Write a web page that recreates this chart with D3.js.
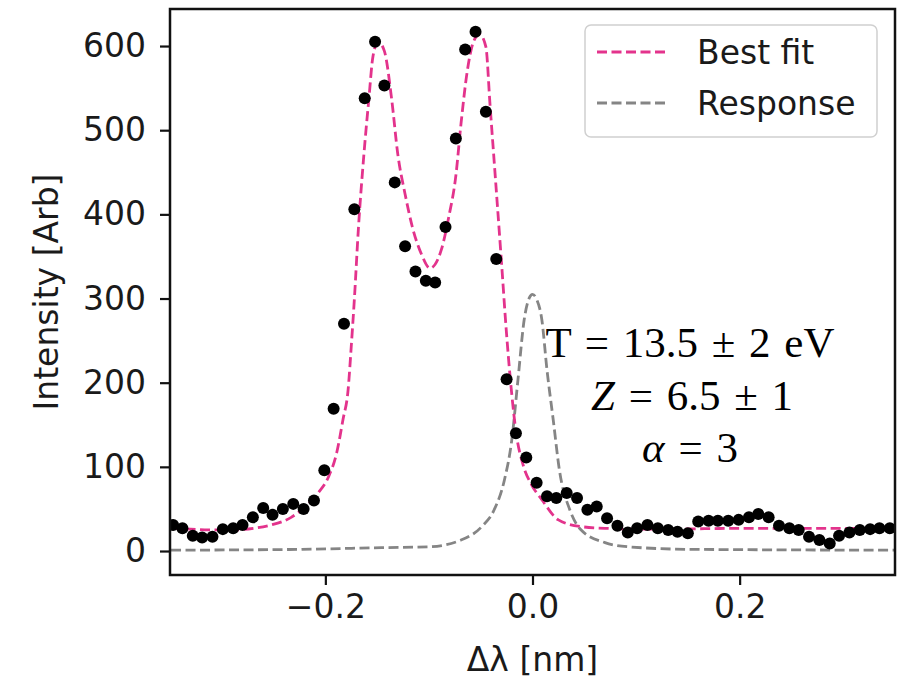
<!DOCTYPE html>
<html>
<head>
<meta charset="utf-8">
<script src="https://cdn.jsdelivr.net/npm/d3@7"></script>
<style>
  body { margin: 0; background: #fff; }
  svg { display: block; }
</style>
</head>
<body>
<script>
// measured spectrum (dots)
const pointX = [-0.347, -0.338, -0.328, -0.319, -0.309, -0.299, -0.289, -0.280, -0.270, -0.260,
  -0.251, -0.241, -0.231, -0.221, -0.211, -0.201, -0.192, -0.182, -0.172, -0.162,
  -0.152, -0.143, -0.133, -0.123, -0.113, -0.103, -0.094, -0.084, -0.074, -0.065,
  -0.055, -0.045, -0.035, -0.025, -0.016, -0.006, 0.004, 0.014, 0.023, 0.033,
  0.043, 0.053, 0.062, 0.072, 0.082, 0.092, 0.101, 0.111, 0.121, 0.131,
  0.140, 0.150, 0.160, 0.170, 0.179, 0.189, 0.199, 0.209, 0.218, 0.228,
  0.238, 0.248, 0.257, 0.267, 0.277, 0.287, 0.296, 0.306, 0.316, 0.326,
  0.335, 0.345];
const pointY = [31, 27, 18, 16, 17, 26, 27, 31, 40, 51,
  43, 50, 56, 50, 60, 96, 169, 270, 406, 538,
  605, 553, 438, 362, 332, 321, 319, 385, 490, 596,
  617, 522, 347, 204, 140, 111, 81, 65, 63, 69,
  63, 49, 53, 39, 30, 22, 27, 31, 27, 25,
  23, 21, 35, 36, 36, 36, 37, 40, 44, 40,
  30, 27, 25, 17, 13, 9, 18, 22, 25, 26,
  27, 27];

// best fit curve
const fitX = [-0.349, -0.330, -0.313, -0.291, -0.269, -0.252, -0.233, -0.220, -0.207, -0.197,
  -0.189, -0.183, -0.178, -0.175, -0.172, -0.168, -0.163, -0.158, -0.154, -0.149,
  -0.143, -0.136, -0.130, -0.123, -0.116, -0.107, -0.099, -0.088, -0.081, -0.074,
  -0.069, -0.063, -0.057, -0.051, -0.045, -0.041, -0.036, -0.030, -0.025, -0.020,
  -0.016, -0.009, -0.001, 0.009, 0.025, 0.047, 0.070, 0.115, 0.212, 0.350];
const fitY = [27, 26, 25, 25, 27, 31, 40, 52, 69, 88,
  117, 156, 192, 243, 299, 385, 468, 537, 588, 605,
  594, 537, 471, 424, 385, 352, 336, 358, 396, 446,
  508, 570, 605, 614, 599, 530, 446, 344, 257, 186,
  142, 102, 79, 61, 37, 29, 27, 26, 27, 27];

// instrument response
const respX = [-0.349, -0.223, -0.146, -0.100, -0.069, -0.049, -0.037, -0.027, -0.020, -0.014,
  -0.008, -0.003, 0.000, 0.004, 0.009, 0.014, 0.020, 0.026, 0.036, 0.047,
  0.070, 0.093, 0.151, 0.350];
const respY = [1, 2, 4, 5, 13, 29, 49, 85, 132, 204,
  275, 301, 305, 299, 275, 215, 156, 96, 49, 25,
  10, 5, 2, 1];

const xTicks = [-0.2, 0.0, 0.2];
const yTicks = [0, 100, 200, 300, 400, 500, 600];
const legendItems = [
  { label: "Best fit", color: "#e3338c" },
  { label: "Response", color: "#858585" }
];

const width = 923, height = 686;
const plotLeft = 170, plotRight = 895, plotTop = 9, plotBottom = 575;

const svg = d3.select("body").append("svg")
  .attr("width", width)
  .attr("height", height)
  .style("font-family", "'DejaVu Sans', sans-serif");

const x = d3.scaleLinear().domain([-0.35, 0.35]).range([plotLeft, plotRight]);
const y = d3.scaleLinear().domain([-28.5, 644]).range([plotBottom, plotTop]);

svg.append("defs").append("clipPath").attr("id", "plot")
  .append("rect")
  .attr("x", plotLeft).attr("y", plotTop)
  .attr("width", plotRight - plotLeft).attr("height", plotBottom - plotTop);

const plot = svg.append("g").attr("clip-path", "url(#plot)");

// Lines
const line = d3.line()
  .x(d => x(d[0]))
  .y(d => y(d[1]))
  .curve(d3.curveMonotoneX);

plot.append("path")
  .datum(respX.map((v, i) => [v, respY[i]]))
  .attr("d", line)
  .attr("fill", "none")
  .attr("stroke", legendItems[1].color)
  .attr("stroke-width", 2.8)
  .attr("stroke-dasharray", "10,4.5");

plot.append("path")
  .datum(fitX.map((v, i) => [v, fitY[i]]))
  .attr("d", line)
  .attr("fill", "none")
  .attr("stroke", legendItems[0].color)
  .attr("stroke-width", 2.8)
  .attr("stroke-dasharray", "10,4.5");

// Data points
plot.append("g")
  .selectAll("circle")
  .data(pointX)
  .enter()
  .append("circle")
  .attr("cx", d => x(d))
  .attr("cy", (d, i) => y(pointY[i]))
  .attr("r", 6)
  .attr("fill", "#000");

// Axes
const xAxis = svg.append("g")
  .attr("transform", `translate(0,${plotBottom})`)
  .call(d3.axisBottom(x).tickValues(xTicks).tickSize(10).tickPadding(10)
    .tickFormat(d => d3.format(".1f")(d).replace("-", "\u2212")));

const yAxis = svg.append("g")
  .attr("transform", `translate(${plotLeft},0)`)
  .call(d3.axisLeft(y).tickValues(yTicks).tickSize(10).tickPadding(14));

[xAxis, yAxis].forEach(g => {
  g.select(".domain").remove();
  g.selectAll(".tick line").attr("stroke", "#111").attr("stroke-width", 2.2);
  g.selectAll(".tick text")
    .attr("fill", "#1a1a1a")
    .style("font-size", "33px")
    .style("font-family", "'DejaVu Sans', sans-serif");
});

// Frame
svg.append("rect")
  .attr("x", plotLeft).attr("y", plotTop)
  .attr("width", plotRight - plotLeft).attr("height", plotBottom - plotTop)
  .attr("fill", "none")
  .attr("stroke", "#111")
  .attr("stroke-width", 2.5);

// Axis labels
svg.append("text")
  .attr("x", (plotLeft + plotRight) / 2)
  .attr("y", 671)
  .attr("text-anchor", "middle")
  .attr("fill", "#1a1a1a")
  .style("font-size", "33px")
  .text("Δλ [nm]");

svg.append("text")
  .attr("transform", `translate(58,${(plotTop + plotBottom) / 2}) rotate(-90)`)
  .attr("text-anchor", "middle")
  .attr("fill", "#1a1a1a")
  .style("font-size", "33px")
  .text("Intensity [Arb]");

// Legend
const legend = svg.append("g");
legend.append("rect")
  .attr("x", 585).attr("y", 25)
  .attr("width", 292).attr("height", 112)
  .attr("rx", 6)
  .attr("fill", "#fff")
  .attr("fill-opacity", 0.8)
  .attr("stroke", "#d0d0d0")
  .attr("stroke-width", 1.5);

legendItems.forEach((item, i) => {
  const cy = 52 + i * 51;
  legend.append("line")
    .attr("x1", 597).attr("x2", 667)
    .attr("y1", cy).attr("y2", cy)
    .attr("stroke", item.color)
    .attr("stroke-width", 2.8)
    .attr("stroke-dasharray", "10,4.5");
  legend.append("text")
    .attr("x", 697).attr("y", cy + 12)
    .attr("fill", "#1a1a1a")
    .style("font-size", "33px")
    .text(item.label);
});

// Fit parameters
const note = svg.append("g")
  .attr("text-anchor", "middle")
  .attr("fill", "#000")
  .style("font-family", "'Liberation Serif', 'DejaVu Serif', serif")
  .style("font-size", "43px")
  .style("word-spacing", "3px");

const l1 = note.append("text").attr("x", 690).attr("y", 357);
l1.append("tspan").text("T = 13.5 ± 2 eV");

const l2 = note.append("text").attr("x", 692).attr("y", 410);
l2.append("tspan").style("font-style", "italic").text("Z");
l2.append("tspan").text(" = 6.5 ± 1");

const l3 = note.append("text").attr("x", 690).attr("y", 462);
l3.append("tspan").style("font-style", "italic").text("α");
l3.append("tspan").text(" = 3");
</script>
</body>
</html>
